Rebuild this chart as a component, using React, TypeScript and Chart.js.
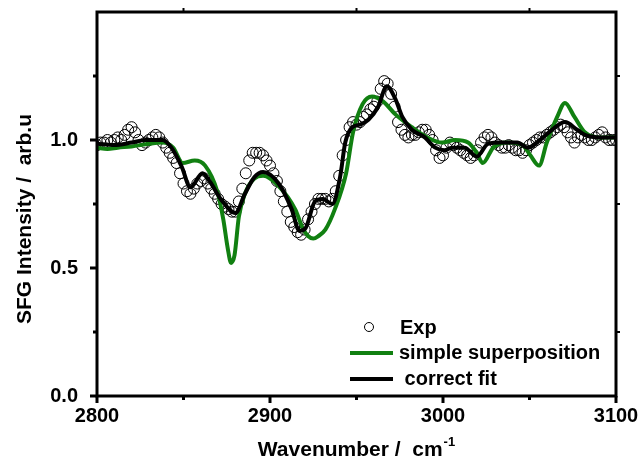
import React, { useEffect, useRef } from 'react';
import { Chart, registerables } from 'chart.js';

Chart.register(...registerables);

const FONT = '"Liberation Sans", Arial, Helvetica, sans-serif';

// X axis
const X_MIN = 2800;
const X_MAX = 3100;
const xMajorTicks = [2800, 2900, 3000, 3100];
const xMinorTicks = [2850, 2950, 3050];
// Y axis
const Y_MIN = 0;
const Y_MAX = 1.5;
const yMajorTicks = [0, 0.5, 1.0];
const yMinorTicks = [0.25, 0.75, 1.25];

const xTitle = 'Wavenumber /  cm';
const xTitleSup = '-1';
const yTitle = 'SFG Intensity /  arb.u';

const legendLabels = ['Exp', 'simple superposition', ' correct fit'];

// Experimental points
const expX = [
  2800, 2802, 2804, 2806, 2808, 2810, 2812, 2814, 2816, 2818,
  2820, 2822, 2824, 2826, 2828, 2830, 2832, 2834, 2836, 2838,
  2840, 2842, 2844, 2846, 2848, 2850, 2852, 2854, 2856, 2858,
  2860, 2862, 2864, 2866, 2868, 2870, 2872, 2874, 2876, 2878,
  2880, 2882, 2884, 2886, 2888, 2890, 2892, 2894, 2896, 2898,
  2900, 2902, 2904, 2906, 2908, 2910, 2912, 2914, 2916, 2918,
  2920, 2922, 2924, 2926, 2928, 2930, 2932, 2934, 2936, 2938,
  2940, 2942, 2944, 2946, 2948, 2950, 2952, 2954, 2956, 2958,
  2960, 2962, 2964, 2966, 2968, 2970, 2972, 2974, 2976, 2978,
  2980, 2982, 2984, 2986, 2988, 2990, 2992, 2994, 2996, 2998,
  3000, 3002, 3004, 3006, 3008, 3010, 3012, 3014, 3016, 3018,
  3020, 3022, 3024, 3026, 3028, 3030, 3032, 3034, 3036, 3038,
  3040, 3042, 3044, 3046, 3048, 3050, 3052, 3054, 3056, 3058,
  3060, 3062, 3064, 3066, 3068, 3070, 3072, 3074, 3076, 3078,
  3080, 3082, 3084, 3086, 3088, 3090, 3092, 3094, 3096, 3098,
  3100,
];
const expY = [
  0.98, 0.99, 0.99, 1.00, 0.99, 1.00, 1.01, 1.00, 1.02, 1.04,
  1.05, 1.03, 1.00, 0.98, 0.99, 1.00, 1.01, 1.02, 1.01, 0.99,
  0.97, 0.95, 0.93, 0.91, 0.87, 0.83, 0.80, 0.79, 0.81, 0.83,
  0.84, 0.85, 0.83, 0.81, 0.79, 0.77, 0.75, 0.74, 0.73, 0.72,
  0.72, 0.76, 0.81, 0.87, 0.92, 0.95, 0.95, 0.95, 0.94, 0.92,
  0.90, 0.87, 0.84, 0.80, 0.76, 0.72, 0.68, 0.66, 0.64, 0.63,
  0.65, 0.69, 0.72, 0.75, 0.77, 0.77, 0.77, 0.76, 0.77, 0.80,
  0.86, 0.94, 1.00, 1.05, 1.07, 1.06, 1.07, 1.09, 1.10, 1.12,
  1.13, 1.15, 1.20, 1.23, 1.22, 1.18, 1.13, 1.07, 1.04, 1.02,
  1.01, 1.02, 1.02, 1.03, 1.04, 1.04, 1.02, 1.00, 0.96, 0.93,
  0.94, 0.97, 0.99, 0.98, 0.97, 0.96, 0.95, 0.94, 0.93, 0.94,
  0.96, 0.99, 1.01, 1.02, 1.01, 0.99, 0.98, 0.97, 0.97, 0.98,
  0.97, 0.96, 0.96, 0.95, 0.96, 0.98, 0.99, 1.00, 1.01, 1.01,
  1.02, 1.03, 1.04, 1.05, 1.06, 1.05, 1.03, 1.01, 0.99, 1.01,
  1.02, 1.01, 1.00, 1.00, 1.01, 1.02, 1.03, 1.01, 1.00, 1.00,
  1.00,
];

// Simple superposition (green)
const simpleX = [
  2800, 2806, 2812, 2820, 2830, 2838, 2844, 2849.5, 2856.5, 2862.5,
  2869.5, 2873, 2875.5, 2877.5, 2879.5, 2882, 2885.5, 2891, 2896, 2905,
  2914.5, 2919, 2922, 2925, 2928, 2932, 2937.5, 2944, 2948, 2953.5,
  2959, 2965.5, 2972.5, 2982, 2991, 2999.5, 3007, 3014.5, 3019.5, 3023,
  3029, 3037, 3046, 3050.5, 3055.5, 3060, 3066, 3070.5, 3076, 3082,
  3090, 3100,
];
const simpleY = [
  0.97, 0.965, 0.97, 0.975, 0.985, 0.99, 0.97, 0.91, 0.92, 0.90,
  0.80, 0.69, 0.58, 0.52, 0.55, 0.70, 0.79, 0.85, 0.86, 0.82,
  0.73, 0.655, 0.625, 0.615, 0.625, 0.65, 0.73, 0.87, 1.03, 1.14,
  1.17, 1.15, 1.10, 1.05, 1.01, 0.99, 1.0, 0.99, 0.95, 0.91,
  0.97, 0.99, 0.98, 0.94, 0.90, 0.99, 1.09, 1.145, 1.09, 1.03,
  1.01, 1.01,
];

// Correct fit (black)
const fitX = [
  2800, 2810, 2820, 2828, 2838, 2843, 2849, 2854, 2861, 2865,
  2872, 2880, 2885.5, 2891, 2896, 2905, 2912.5, 2917, 2920.5, 2926,
  2930.5, 2936, 2940.5, 2943.5, 2947.5, 2952, 2957, 2962.5, 2967.5, 2972.5,
  2976.5, 2982, 2989.5, 2995.5, 3001, 3005, 3012.5, 3019.5, 3026, 3034,
  3043, 3049, 3056, 3063, 3070.5, 3077.5, 3082, 3091, 3100,
];
const fitY = [
  0.985, 0.98, 0.99, 1.0, 1.0, 0.97, 0.895, 0.815, 0.87, 0.84,
  0.765, 0.715, 0.79, 0.855, 0.875, 0.83, 0.73, 0.645, 0.655, 0.76,
  0.77, 0.75, 0.855, 0.99, 1.05, 1.06, 1.08, 1.13, 1.21, 1.16,
  1.09, 1.04, 1.01, 0.97, 0.96, 0.97, 0.97, 0.935, 0.985, 0.99,
  0.99, 0.97, 1.0, 1.04, 1.07, 1.04, 1.02, 1.01, 1.01,
];

const GREEN = '#118011';

const toPts = (xs: number[], ys: number[]) => xs.map((x, i) => ({ x, y: ys[i] }));

const decorPlugin = {
  id: 'decor',
  afterDraw(chart: any) {
    const { ctx, chartArea: a, scales } = chart;
    const xs = scales.x;
    const ys = scales.y;
    ctx.save();
    ctx.strokeStyle = '#000';
    ctx.fillStyle = '#000';

    // frame
    ctx.lineWidth = 3;
    ctx.strokeRect(a.left, a.top, a.right - a.left, a.bottom - a.top);

    // ticks
    ctx.lineCap = 'butt';
    const hTick = (y: number, x0: number, x1: number, w: number) => {
      ctx.lineWidth = w;
      ctx.beginPath();
      ctx.moveTo(x0, y);
      ctx.lineTo(x1, y);
      ctx.stroke();
    };
    const vTick = (x: number, y0: number, y1: number, w: number) => {
      ctx.lineWidth = w;
      ctx.beginPath();
      ctx.moveTo(x, y0);
      ctx.lineTo(x, y1);
      ctx.stroke();
    };
    yMajorTicks.forEach((v) => {
      const y = ys.getPixelForValue(v);
      hTick(y, a.left - 7, a.left, 3);
    });
    yMinorTicks.forEach((v) => {
      const y = ys.getPixelForValue(v);
      hTick(y, a.left - 4, a.left, 3);
      hTick(y, a.right, a.right + 4, 2);
    });
    xMajorTicks.forEach((v) => {
      const x = xs.getPixelForValue(v);
      vTick(x, a.bottom, a.bottom + 7, 3);
    });
    xMinorTicks.forEach((v) => {
      const x = xs.getPixelForValue(v);
      vTick(x, a.bottom, a.bottom + 4, 3);
      vTick(x, a.top - 4, a.top, 2);
    });

    // legend
    const lx0 = 350;
    const lx1 = 393;
    ctx.font = `bold 20px ${FONT}`;
    ctx.textBaseline = 'middle';
    ctx.textAlign = 'left';
    // Exp
    ctx.lineWidth = 1;
    ctx.beginPath();
    ctx.arc(369, 327, 4.5, 0, Math.PI * 2);
    ctx.stroke();
    ctx.fillText(legendLabels[0], 400, 328);
    // simple superposition
    ctx.strokeStyle = GREEN;
    ctx.lineWidth = 4;
    ctx.beginPath();
    ctx.moveTo(lx0, 353);
    ctx.lineTo(lx1, 353);
    ctx.stroke();
    ctx.fillText(legendLabels[1], 399, 353);
    // correct fit
    ctx.strokeStyle = '#000';
    ctx.beginPath();
    ctx.moveTo(lx0, 379);
    ctx.lineTo(lx1, 379);
    ctx.stroke();
    ctx.fillText(legendLabels[2], 399, 379);

    // x title
    ctx.textBaseline = 'alphabetic';
    ctx.font = `bold 21px ${FONT}`;
    const wMain = ctx.measureText(xTitle).width;
    ctx.font = `bold 13px ${FONT}`;
    const wSup = ctx.measureText(xTitleSup).width;
    const cx = 356;
    const startX = cx - (wMain + wSup) / 2;
    ctx.font = `bold 21px ${FONT}`;
    ctx.fillText(xTitle, startX, 456);
    ctx.font = `bold 13px ${FONT}`;
    ctx.fillText(xTitleSup, startX + wMain + 1, 446);

    // y title
    ctx.save();
    ctx.translate(31, 219);
    ctx.rotate(-Math.PI / 2);
    ctx.font = `bold 21px ${FONT}`;
    ctx.textAlign = 'center';
    ctx.textBaseline = 'alphabetic';
    ctx.fillText(yTitle, 0, 0);
    ctx.restore();

    ctx.restore();
  },
};

export default function App() {
  const canvasRef = useRef<HTMLCanvasElement | null>(null);

  useEffect(() => {
    const canvas = canvasRef.current;
    if (!canvas) return;
    const chart = new Chart(canvas, {
      type: 'scatter',
      data: {
        datasets: [
          {
            label: 'correct fit',
            data: toPts(fitX, fitY),
            showLine: true,
            borderColor: '#000',
            borderWidth: 4,
            pointRadius: 0,
            cubicInterpolationMode: 'monotone',
            fill: false,
          },
          {
            label: 'simple superposition',
            data: toPts(simpleX, simpleY),
            showLine: true,
            borderColor: GREEN,
            borderWidth: 4,
            pointRadius: 0,
            cubicInterpolationMode: 'monotone',
            fill: false,
          },
          {
            label: 'Exp',
            data: toPts(expX, expY),
            showLine: false,
            pointRadius: 5.5,
            pointBorderWidth: 1,
            pointBorderColor: '#000',
            pointBackgroundColor: 'rgba(255,255,255,0)',
          },
        ],
      },
      options: {
        responsive: false,
        animation: false,
        devicePixelRatio: 1,
        layout: { padding: { top: 12, right: 23, left: 0, bottom: 0 } },
        plugins: {
          legend: { display: false },
          tooltip: { enabled: false },
        },
        scales: {
          x: {
            type: 'linear',
            min: X_MIN,
            max: X_MAX,
            afterFit: (s: any) => {
              s.height = 68;
              s.paddingLeft = 0;
              s.paddingRight = 0;
            },
            afterBuildTicks: (s: any) => {
              s.ticks = xMajorTicks.map((v) => ({ value: v }));
            },
            grid: { display: false, drawTicks: false },
            border: { display: false },
            ticks: {
              padding: 8,
              color: '#000',
              font: { family: FONT, size: 20, weight: 'bold' },
              maxRotation: 0,
              callback: (v: any) => String(v),
            },
          },
          y: {
            type: 'linear',
            min: Y_MIN,
            max: Y_MAX,
            afterFit: (s: any) => {
              s.width = 97;
              s.paddingTop = 0;
              s.paddingBottom = 0;
            },
            afterBuildTicks: (s: any) => {
              s.ticks = yMajorTicks.map((v) => ({ value: v }));
            },
            grid: { display: false, drawTicks: false },
            border: { display: false },
            ticks: {
              padding: 19,
              color: '#000',
              font: { family: FONT, size: 20, weight: 'bold' },
              callback: (v: any) => Number(v).toFixed(1),
            },
          },
        },
      },
      plugins: [decorPlugin],
    });
    return () => chart.destroy();
  }, []);

  return (
    <div
      style={{
        position: 'absolute',
        left: 0,
        top: 0,
        width: 639,
        height: 464,
        background: '#fff',
      }}
    >
      <canvas ref={canvasRef} width={639} height={464} style={{ display: 'block' }} />
    </div>
  );
}
